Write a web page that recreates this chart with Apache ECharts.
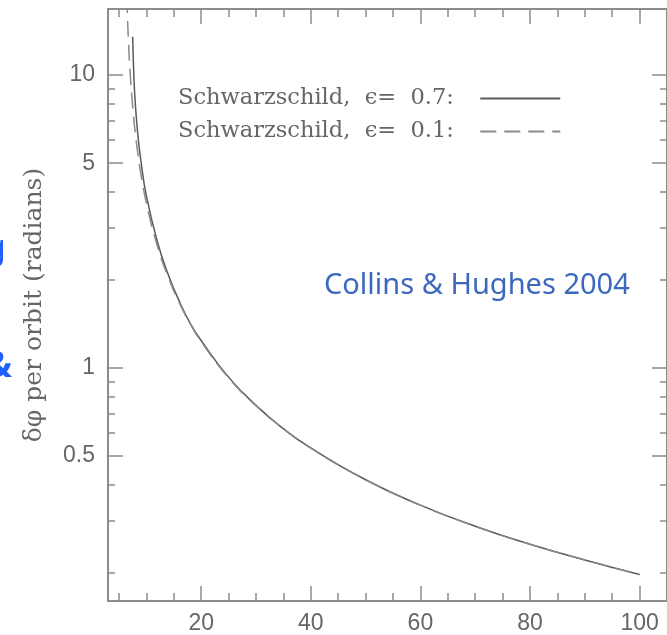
<!DOCTYPE html>
<html>
<head>
<meta charset="utf-8">
<script src="https://cdn.jsdelivr.net/npm/echarts@6/dist/echarts.min.js"></script>
<style>
  html, body { margin: 0; padding: 0; background: #fff; }
  #main { width: 667px; height: 635px; }
</style>
</head>
<body>
<div id="main"></div>
<script>
// p (semi-latus rectum) and precession per orbit
var pSolid = [7.5, 7.75, 8, 8.5, 9, 10, 12, 14, 16, 18, 20, 25, 30, 35, 40, 50, 60, 70, 80, 90, 100];
var phiSolid = [13.5, 9.6, 7.9, 6.1, 5.1, 3.87, 2.7, 2.08, 1.69, 1.42, 1.24, 0.93, 0.745, 0.62, 0.533, 0.415, 0.34, 0.288, 0.25, 0.221, 0.197];
var pDash = [6.45, 6.5, 6.75, 7, 7.5, 8, 8.5, 9, 10, 12, 14, 16, 18, 20, 25, 30, 35, 40, 50, 60, 70, 80, 90, 100];
var phiDash = [18.5, 16.9, 12.8, 10.5, 7.8, 6.3, 5.3, 4.6, 3.66, 2.61, 2.04, 1.67, 1.415, 1.23, 0.925, 0.743, 0.62, 0.532, 0.415, 0.34, 0.288, 0.25, 0.221, 0.197];

var xMajor = [20, 40, 60, 80, 100];
var xMinor = [5, 10, 15, 25, 30, 35, 45, 50, 55, 65, 70, 75, 85, 90, 95];
var yMajor = [0.5, 1, 5, 10];
var yMinor = [0.2, 0.3, 0.4, 0.6, 0.7, 0.8, 0.9, 2, 3, 4, 6, 7, 8, 9];

var nameSolid = 'Schwarzschild,  \u03f5=  0.7:   ';
var nameDash = 'Schwarzschild,  \u03f5=  0.1:   ';

function pairs(xs, ys) {
    var out = [];
    for (var i = 0; i < xs.length; i++) out.push([xs[i], ys[i]]);
    return out;
}

var axisGray = '#8c8c8c';
var lineGray = '#5a5a5a';

function xAx(pos, ticks, len, withLine, withLabel) {
    return {
        type: 'value', position: pos, min: 3, max: 105, gridIndex: 0,
        axisLine: { show: withLine, onZero: false, lineStyle: { color: axisGray, width: 2 } },
        axisTick: { show: true, inside: true, length: len, customValues: ticks, lineStyle: { color: axisGray, width: 1.5 } },
        axisLabel: withLabel ? { show: true, customValues: ticks, color: '#666', fontSize: 23, fontFamily: 'Liberation Sans', margin: 11 } : { show: false },
        splitLine: { show: false }
    };
}
function yAx(pos, ticks, len, withLine, withLabel) {
    return {
        type: 'log', position: pos, min: 0.16, max: 16.8, logBase: 10, gridIndex: 0,
        axisLine: { show: withLine, onZero: false, lineStyle: { color: axisGray, width: 2 } },
        axisTick: { show: true, inside: true, length: len, customValues: ticks, lineStyle: { color: axisGray, width: 1.5 } },
        axisLabel: withLabel ? { show: true, customValues: ticks, color: '#666', fontSize: 23, fontFamily: 'Liberation Sans', margin: 13 } : { show: false },
        splitLine: { show: false }
    };
}

var yMain = yAx('left', yMajor, 15, true, true);
yMain.name = '\u03b4\u03c6 per orbit (radians)';
yMain.nameLocation = 'middle';
yMain.nameGap = 61;
yMain.nameTextStyle = { color: '#666', fontSize: 25, fontFamily: 'DejaVu Serif' };

var chart = echarts.init(document.getElementById('main'));
chart.setOption({
    animation: false,
    backgroundColor: '#fff',
    grid: { left: 108, top: 9, width: 560, height: 594 },
    title: {
        text: 'Collins & Hughes 2004', left: 319, top: 266,
        textStyle: { color: '#3d69bd', fontSize: 29, fontWeight: 'normal', fontFamily: 'Noto Sans' }
    },
    legend: {
        orient: 'vertical', left: 173, top: 82, align: 'right',
        itemWidth: 80, itemHeight: 14, itemGap: 10,
        itemStyle: { color: 'rgba(0,0,0,0)', borderWidth: 0, opacity: 0 },
        textStyle: { color: '#666', fontSize: 22.5, fontFamily: 'DejaVu Serif' },
        data: [nameSolid, nameDash]
    },
    xAxis: [
        xAx('bottom', xMajor, 15, true, true),
        xAx('bottom', xMinor, 8, false, false),
        xAx('top', xMajor, 15, true, false),
        xAx('top', xMinor, 8, false, false)
    ],
    yAxis: [
        yMain,
        yAx('left', yMinor, 7, false, false),
        yAx('right', yMajor, 15, true, false),
        yAx('right', yMinor, 7, false, false)
    ],
    graphic: [
        { type: 'text', left: -15, top: 232, style: { text: 'g', fill: '#1f5fff', font: '34px Noto Sans' } },
        { type: 'text', left: -15, top: 349, style: { text: '&', fill: '#1f5fff', font: 'bold 36px Noto Sans' } }
    ],
    series: [
        {
            name: nameSolid, type: 'line', smooth: true, symbol: 'none',
            xAxisIndex: 0, yAxisIndex: 0,
            lineStyle: { color: lineGray, width: 1.5 }, itemStyle: { color: lineGray },
            data: pairs(pSolid, phiSolid)
        },
        {
            name: nameDash, type: 'line', smooth: true, symbol: 'none',
            xAxisIndex: 0, yAxisIndex: 0,
            lineStyle: { color: '#8a8a8a', width: 1.5, type: [16, 8] }, itemStyle: { color: '#8a8a8a' },
            data: pairs(pDash, phiDash)
        }
    ]
});
</script>
</body>
</html>
